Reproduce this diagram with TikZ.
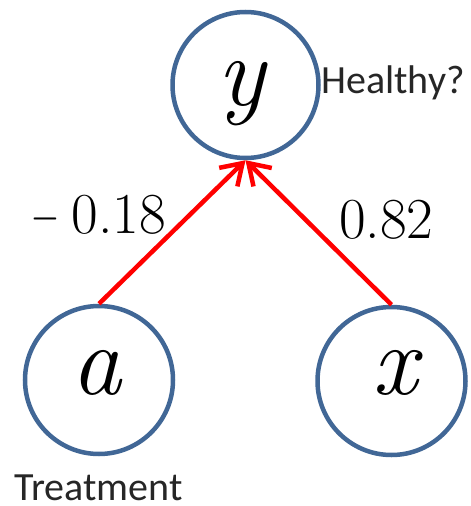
\documentclass[tikz,border=0pt]{standalone}
\usepackage{fontspec}
\newfontfamily\labelfont{Carlito}
\usetikzlibrary{arrows.meta}
\definecolor{nodeblue}{RGB}{65,103,150}
\definecolor{arrowred}{RGB}{255,0,0}
\tikzset{
  var/.style={circle, draw=nodeblue, line width=4.5pt, inner sep=0pt},
  varname/.style={font=\rmfamily\itshape\fontsize{100}{100}\selectfont, anchor=base, inner sep=0pt},
  weight/.style={font=\rmfamily\fontsize{58}{60}\selectfont, inner sep=0pt},
  caption/.style={font=\labelfont\fontsize{40}{42}\selectfont, text=black!85, anchor=base west, inner sep=0pt},
  edge/.style={draw=arrowred, line width=4.5pt, -{Straight Barb[length=20pt,width=26pt]}}
}
\begin{document}
\begin{tikzpicture}[x=1pt,y=-1pt]
\useasboundingbox (0,0) rectangle (471,506);
\node[var, minimum size=146pt] (y) at (245.5,85) {};
\node[var, minimum size=148pt] (a) at (99,380) {};
\node[var, minimum size=148pt] (x) at (391.5,381) {};
\node[varname] (ylab) at (241,105) {y};
\node[varname] (alab) at (96,394) {a};
\node[varname] (xlab) at (395,394) {x};
\draw[edge] (a.north) -- (y.south);
\draw[edge] (x.north) -- (y.south);
\node[weight, anchor=base east] (w1) at (166,233) {\scalebox{0.62}[1]{\char"2212}\kern13pt 0.18};
\node[weight, anchor=base west] (w2) at (339,238) {0.82};
\node[caption] (healthy) at (321,93) {Healthy?};
\node[caption] (treat) at (14,500) {Treatment};
\end{tikzpicture}
\end{document}
